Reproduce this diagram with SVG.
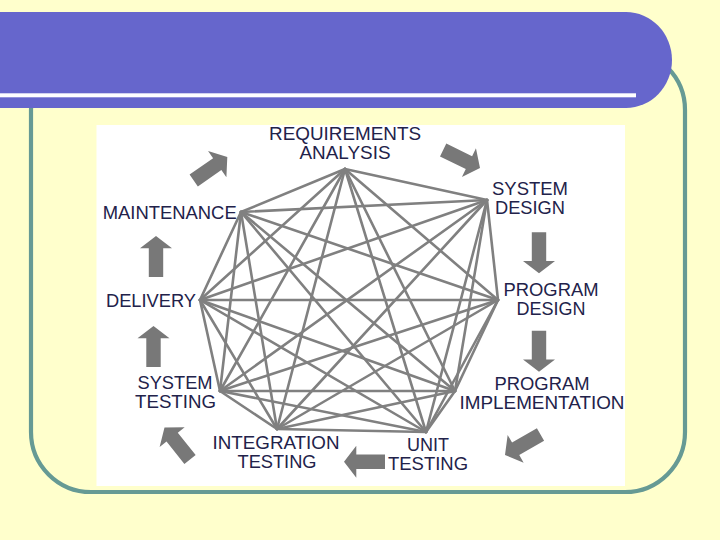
<svg xmlns="http://www.w3.org/2000/svg" xmlns:xlink="http://www.w3.org/1999/xlink" width="720" height="540" viewBox="0 0 720 540">
<style>
.lbl{font-family:"Liberation Sans",Arial,Helvetica,sans-serif;font-size:17.5px;fill:#22224a;text-anchor:middle}
.edge{stroke:#808080;stroke-width:2.6;stroke-linecap:round;fill:none}
.blk{fill:#787878}
</style>
<defs>
<path id="arrowUp" d="M0,0 L16,12.3 L7.2,12.3 L7.2,41 L-7.2,41 L-7.2,12.3 L-16,12.3 Z"/>
</defs>
<rect x="0" y="0" width="720" height="540" fill="#FFFFCC"/>
<rect x="31" y="50" width="654" height="442" rx="60" ry="60" fill="none" stroke="#669A94" stroke-width="4.2"/>
<path d="M0,12 L626,12 A46,48 0 0 1 672,60 A46,48 0 0 1 626,108 L0,108 Z" fill="#6666CC"/>
<rect x="0" y="93.3" width="636" height="4" fill="#FFFFFF"/>
<rect x="96.5" y="125" width="528.5" height="361" fill="#FFFFFF"/>
<g id="connectors">
<line class="edge" x1="345" y1="169" x2="487" y2="200"/>
<line class="edge" x1="345" y1="169" x2="498" y2="300"/>
<line class="edge" x1="345" y1="169" x2="455" y2="391"/>
<line class="edge" x1="345" y1="169" x2="426" y2="432"/>
<line class="edge" x1="345" y1="169" x2="277" y2="429"/>
<line class="edge" x1="345" y1="169" x2="220" y2="391"/>
<line class="edge" x1="345" y1="169" x2="200" y2="300"/>
<line class="edge" x1="345" y1="169" x2="241" y2="212"/>
<line class="edge" x1="487" y1="200" x2="498" y2="300"/>
<line class="edge" x1="487" y1="200" x2="455" y2="391"/>
<line class="edge" x1="487" y1="200" x2="426" y2="432"/>
<line class="edge" x1="487" y1="200" x2="277" y2="429"/>
<line class="edge" x1="487" y1="200" x2="220" y2="391"/>
<line class="edge" x1="487" y1="200" x2="200" y2="300"/>
<line class="edge" x1="487" y1="200" x2="241" y2="212"/>
<line class="edge" x1="498" y1="300" x2="455" y2="391"/>
<line class="edge" x1="498" y1="300" x2="426" y2="432"/>
<line class="edge" x1="498" y1="300" x2="277" y2="429"/>
<line class="edge" x1="498" y1="300" x2="220" y2="391"/>
<line class="edge" x1="498" y1="300" x2="200" y2="300"/>
<line class="edge" x1="498" y1="300" x2="241" y2="212"/>
<line class="edge" x1="455" y1="391" x2="426" y2="432"/>
<line class="edge" x1="455" y1="391" x2="277" y2="429"/>
<line class="edge" x1="455" y1="391" x2="220" y2="391"/>
<line class="edge" x1="455" y1="391" x2="200" y2="300"/>
<line class="edge" x1="455" y1="391" x2="241" y2="212"/>
<line class="edge" x1="426" y1="432" x2="277" y2="429"/>
<line class="edge" x1="426" y1="432" x2="220" y2="391"/>
<line class="edge" x1="426" y1="432" x2="200" y2="300"/>
<line class="edge" x1="426" y1="432" x2="241" y2="212"/>
<line class="edge" x1="277" y1="429" x2="220" y2="391"/>
<line class="edge" x1="277" y1="429" x2="200" y2="300"/>
<line class="edge" x1="277" y1="429" x2="241" y2="212"/>
<line class="edge" x1="220" y1="391" x2="200" y2="300"/>
<line class="edge" x1="220" y1="391" x2="241" y2="212"/>
<line class="edge" x1="200" y1="300" x2="241" y2="212"/>
</g>
<g id="flow-arrows" class="blk">
<use xlink:href="#arrowUp" transform="translate(227.3,157) rotate(55)"/>
<use xlink:href="#arrowUp" transform="translate(480,168) rotate(116)"/>
<use xlink:href="#arrowUp" transform="translate(539,273.3) rotate(180)"/>
<use xlink:href="#arrowUp" transform="translate(539,371.7) rotate(180)"/>
<use xlink:href="#arrowUp" transform="translate(505,455) rotate(240)"/>
<use xlink:href="#arrowUp" transform="translate(344,461.7) rotate(-90)"/>
<use xlink:href="#arrowUp" transform="translate(164.5,427.5) rotate(-38.5)"/>
<use xlink:href="#arrowUp" transform="translate(153.5,326)"/>
<use xlink:href="#arrowUp" transform="translate(156,236)"/>
</g>
<g id="requirements-analysis"><text class="lbl" x="345" y="140.25" textLength="152" lengthAdjust="spacingAndGlyphs">REQUIREMENTS</text><text class="lbl" x="345" y="159.25" textLength="91" lengthAdjust="spacingAndGlyphs">ANALYSIS</text></g>
<g id="system-design"><text class="lbl" x="530" y="195.25" textLength="76" lengthAdjust="spacingAndGlyphs">SYSTEM</text><text class="lbl" x="530" y="214.25" textLength="70" lengthAdjust="spacingAndGlyphs">DESIGN</text></g>
<g id="program-design"><text class="lbl" x="551" y="295.75" textLength="95" lengthAdjust="spacingAndGlyphs">PROGRAM</text><text class="lbl" x="551" y="314.75" textLength="69" lengthAdjust="spacingAndGlyphs">DESIGN</text></g>
<g id="program-implementation"><text class="lbl" x="542" y="389.75" textLength="95" lengthAdjust="spacingAndGlyphs">PROGRAM</text><text class="lbl" x="542" y="408.75" textLength="165" lengthAdjust="spacingAndGlyphs">IMPLEMENTATION</text></g>
<g id="unit-testing"><text class="lbl" x="428" y="451.25" textLength="42" lengthAdjust="spacingAndGlyphs">UNIT</text><text class="lbl" x="428" y="470.25" textLength="80" lengthAdjust="spacingAndGlyphs">TESTING</text></g>
<g id="integration-testing"><text class="lbl" x="276" y="449" textLength="127" lengthAdjust="spacingAndGlyphs">INTEGRATION</text><text class="lbl" x="277" y="468" textLength="79" lengthAdjust="spacingAndGlyphs">TESTING</text></g>
<g id="system-testing"><text class="lbl" x="175" y="388.75" textLength="75" lengthAdjust="spacingAndGlyphs">SYSTEM</text><text class="lbl" x="175.5" y="407.75" textLength="81" lengthAdjust="spacingAndGlyphs">TESTING</text></g>
<g id="delivery"><text class="lbl" x="151" y="306.7" textLength="90" lengthAdjust="spacingAndGlyphs">DELIVERY</text></g>
<g id="maintenance"><text class="lbl" x="169.7" y="218.5" textLength="134" lengthAdjust="spacingAndGlyphs">MAINTENANCE</text></g>
</svg>
